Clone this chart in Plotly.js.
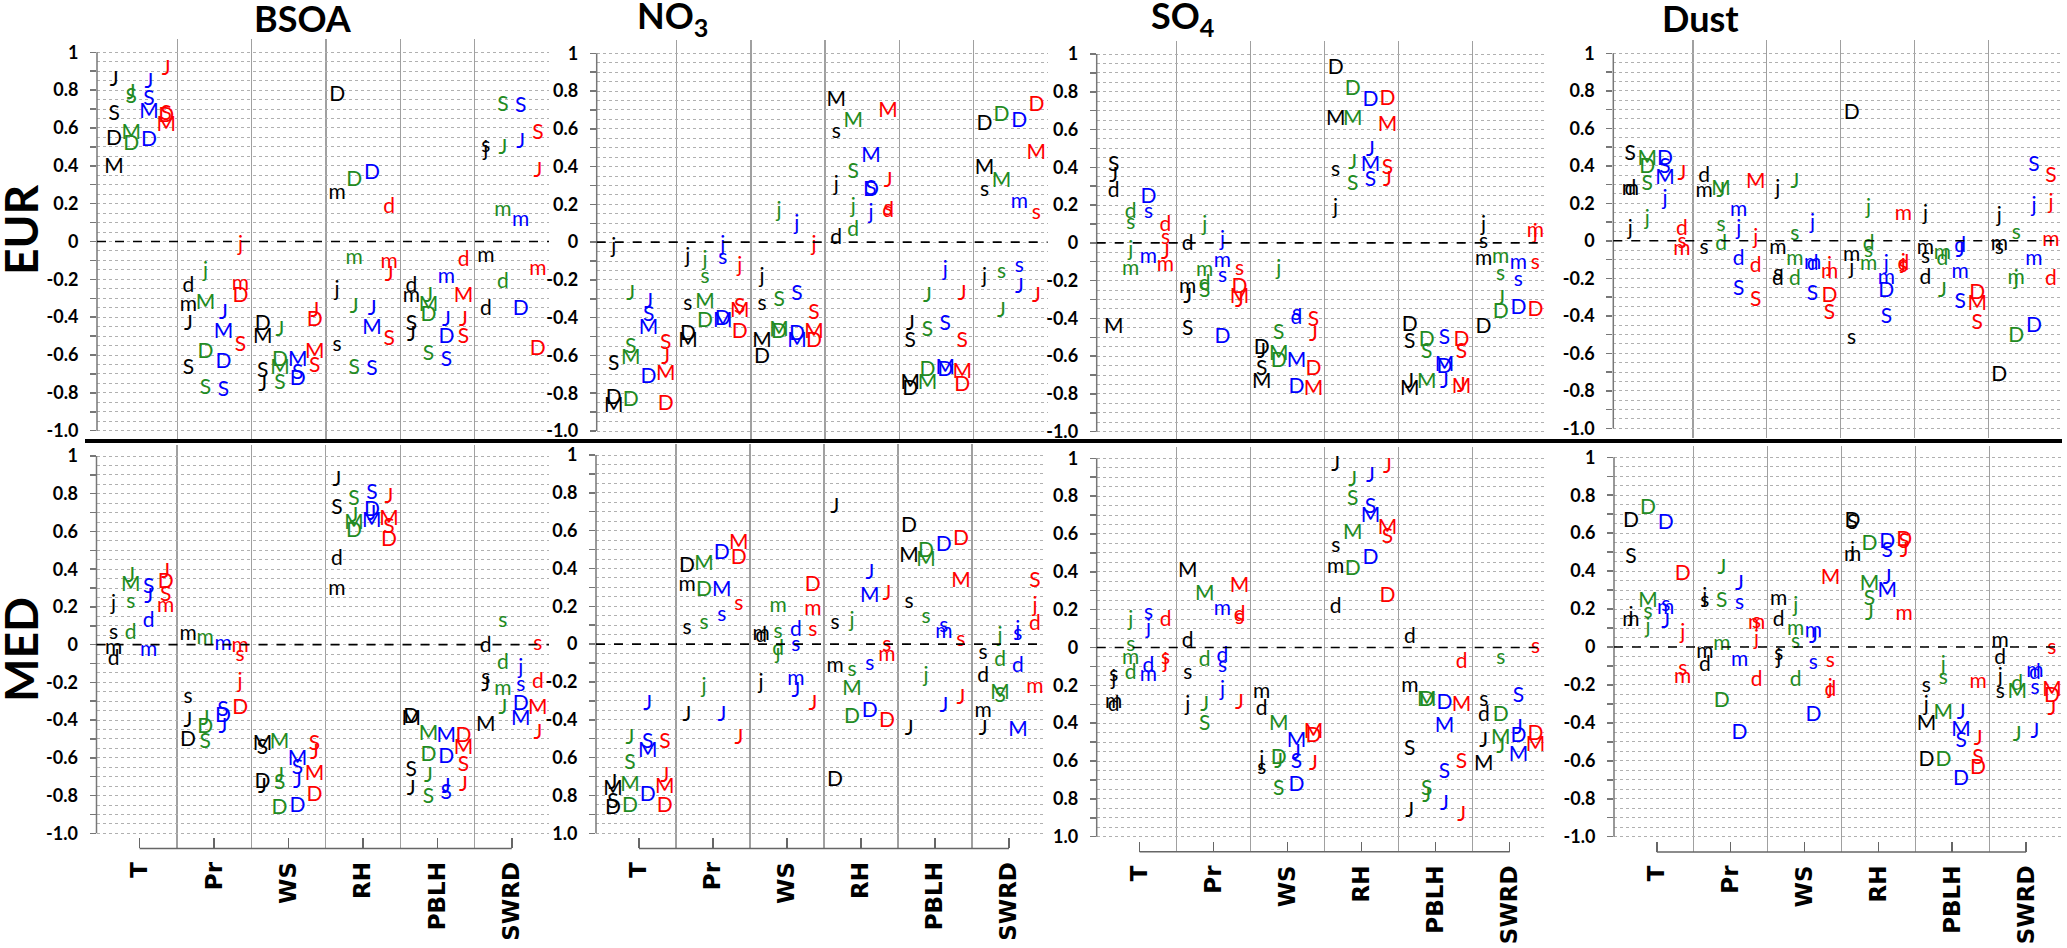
<!DOCTYPE html>
<html>
<head>
<meta charset="utf-8">
<script src="https://cdn.plot.ly/plotly-3.0.1.min.js"></script>
<style>
  html, body { margin: 0; padding: 0; background: #fff; }
  #chart { width: 2067px; height: 948px; }
</style>
</head>
<body>
<div id="chart"></div>
<script>
var categories = ["T", "Pr", "WS", "RH", "PBLH", "SWRD"];

// each series: one list per category of [letter, correlation]
// K = black, G = green, B = blue, R = red
var bsoaEurK = [[["J",.85],["S",.67],["D",.54],["M",.39]], [["d",-.24],["m",-.34],["J",-.44],["S",-.67]], [["D",-.44],["M",-.51],["S",-.69],["J",-.76]], [["D",.77],["m",.25],["j",-.26],["s",-.55]], [["d",-.24],["m",-.29],["S",-.44],["J",-.50]], [["s",.50],["j",.48],["m",-.08],["d",-.36]]];
var bsoaEurG = [[["J",.78],["S",.76],["M",.57],["D",.51]], [["j",-.16],["M",-.33],["D",-.59],["S",-.78]], [["J",-.47],["D",-.63],["M",-.67],["S",-.75]], [["D",.32],["m",-.09],["J",-.35],["S",-.67]], [["J",-.29],["M",-.34],["D",-.39],["S",-.60]], [["S",.72],["J",.49],["m",.16],["d",-.22]]];
var bsoaEurB = [[["J",.84],["S",.75],["M",.68],["D",.53]], [["J",-.38],["M",-.48],["D",-.64],["S",-.79]], [["M",-.63],["S",-.70],["D",-.73]], [["D",.36],["J",-.36],["M",-.46],["S",-.68]], [["m",-.19],["J",-.42],["D",-.51],["S",-.63]], [["S",.71],["J",.52],["m",.11],["D",-.36]]];
var bsoaEurR = [[["J",.91],["S",.67],["D",.66],["M",.61]], [["j",-.02],["m",-.23],["D",-.29],["S",-.55]], [["J",-.37],["D",-.42],["M",-.59],["S",-.66]], [["d",.18],["m",-.11],["J",-.18],["S",-.52]], [["d",-.10],["M",-.29],["J",-.42],["S",-.51]], [["S",.57],["J",.37],["m",-.15],["D",-.57]]];

var no3EurK = [[["j",-.03],["S",-.65],["D",-.83],["M",-.87]], [["j",-.08],["s",-.33],["D",-.49],["M",-.53]], [["j",-.19],["s",-.33],["M",-.53],["D",-.61]], [["M",.75],["s",.58],["j",.30],["d",.02]], [["J",-.44],["S",-.53],["M",-.75],["D",-.78]], [["D",.62],["M",.39],["s",.27],["j",-.19]]];
var no3EurG = [[["J",-.28],["S",-.56],["M",-.62],["D",-.84]], [["j",-.10],["s",-.19],["M",-.32],["D",-.42]], [["j",.16],["S",-.31],["M",-.47],["D",-.48]], [["M",.64],["S",.37],["j",.18],["d",.06]], [["J",-.29],["S",-.47],["D",-.68],["M",-.75]], [["D",.67],["M",.32],["s",-.16],["J",-.37]]];
var no3EurB = [[["J",-.32],["S",-.39],["M",-.46],["D",-.72]], [["j",-.02],["s",-.09],["D",-.41],["M",-.42]], [["j",.09],["S",-.28],["D",-.49],["M",-.53]], [["M",.45],["S",.28],["D",.27],["j",.15]], [["j",-.15],["S",-.44],["M",-.67],["D",-.68]], [["D",.64],["m",.21],["s",-.13],["J",-.24]]];
var no3EurR = [[["S",-.54],["J",-.62],["M",-.70],["D",-.86]], [["j",-.13],["S",-.35],["M",-.37],["D",-.48]], [["j",-.02],["S",-.38],["M",-.48],["D",-.53]], [["M",.69],["J",.32],["s",.17],["d",.16]], [["J",-.28],["S",-.53],["M",-.69],["D",-.76]], [["D",.72],["M",.47],["s",.15],["J",-.29]]];

var so4EurK = [[["S",.41],["J",.35],["d",.27],["M",-.45]], [["d",-.01],["m",-.24],["J",-.29],["S",-.46]], [["D",-.56],["J",-.58],["S",-.67],["M",-.74]], [["D",.92],["M",.65],["s",.38],["j",.18]], [["D",-.44],["S",-.53],["J",-.74],["M",-.78]], [["j",.09],["s",0],["m",-.09],["D",-.45]]];
var so4EurG = [[["d",.16],["s",.10],["j",-.04],["m",-.14]], [["j",.09],["m",-.15],["d",-.22],["S",-.26]], [["j",-.14],["S",-.48],["M",-.59],["D",-.63]], [["D",.81],["M",.65],["J",.42],["S",.31]], [["D",-.52],["S",-.58],["M",-.74]], [["m",-.08],["s",-.17],["J",-.30],["D",-.37]]];
var so4EurB = [[["D",.24],["s",.16],["m",-.08]], [["j",.01],["m",-.10],["s",-.18],["D",-.50]], [["s",-.38],["d",-.40],["M",-.63],["D",-.77]], [["D",.75],["J",.49],["M",.41],["S",.33]], [["S",-.51],["M",-.65],["D",-.66],["J",-.74]], [["m",-.11],["s",-.20],["D",-.35]]];
var so4EurR = [[["d",.09],["s",.02],["J",-.06],["m",-.12]], [["s",-.14],["D",-.24],["M",-.29],["J",-.31]], [["S",-.41],["J",-.49],["D",-.67],["M",-.78]], [["D",.76],["M",.62],["S",.39],["J",.33]], [["D",-.52],["S",-.58],["J",-.76],["M",-.77]], [["m",.06],["j",.05],["s",-.11],["D",-.36]]];

var dustEurK = [[["S",.46],["m",.27],["d",.27],["j",.06]], [["d",.34],["m",.26],["s",-.04]], [["j",.27],["m",-.04],["s",-.18],["d",-.21]], [["D",.68],["m",-.08],["j",-.15],["s",-.52]], [["j",.14],["m",-.04],["s",-.09],["d",-.20]], [["j",.13],["m",-.02],["s",-.04],["D",-.72]]];
var dustEurG = [[["M",.43],["D",.39],["S",.30],["j",.11]], [["M",.27],["J",.26],["s",.08],["d",-.02]], [["J",.31],["s",.03],["m",-.10],["d",-.21]], [["j",.17],["d",-.02],["s",-.06],["m",-.13]], [["m",-.07],["d",-.10],["J",-.27]], [["s",.04],["m",-.20],["j",-.21],["D",-.51]]];
var dustEurB = [[["D",.43],["S",.39],["M",.33],["j",.22]], [["m",.16],["j",.06],["d",-.10],["S",-.26]], [["j",.09],["m",-.12],["d",-.13],["S",-.29]], [["j",-.13],["m",-.20],["D",-.27],["S",-.41]], [["d",-.03],["J",-.06],["m",-.17],["S",-.33]], [["S",.40],["j",.18],["m",-.10],["D",-.46]]];
var dustEurR = [[["J",.35],["d",.06],["s",-.01],["m",-.05]], [["M",.31],["j",.01],["d",-.14],["S",-.32]], [["j",-.14],["m",-.17],["D",-.30],["S",-.39]], [["m",.14],["j",-.12],["d",-.13],["s",-.14]], [["D",-.28],["M",-.34],["S",-.44]], [["S",.34],["j",.20],["m",0],["d",-.21]]];

var bsoaMedK = [[["j",.21],["s",.06],["m",-.02],["d",-.08]], [["m",.05],["s",-.28],["J",-.41],["D",-.51]], [["M",-.53],["S",-.55],["D",-.73],["J",-.76]], [["J",.87],["S",.72],["d",.45],["m",.29]], [["D",-.39],["M",-.40],["S",-.67],["J",-.77]], [["d",-.01],["s",-.18],["J",-.22],["M",-.43]]];
var bsoaMedG = [[["J",.36],["M",.31],["s",.22],["d",.06]], [["m",.03],["J",-.40],["D",-.44],["S",-.52]], [["M",-.52],["J",-.70],["S",-.74],["D",-.87]], [["S",.77],["J",.68],["M",.64],["D",.60]], [["M",-.48],["D",-.59],["J",-.70],["S",-.81]], [["s",.12],["d",-.10],["m",-.24],["J",-.34]]];
var bsoaMedB = [[["S",.30],["J",.25],["d",.12],["m",-.03]], [["m",0],["S",-.35],["D",-.38],["J",-.44]], [["M",-.61],["S",-.66],["J",-.73],["D",-.86]], [["S",.80],["D",.71],["J",.69],["M",.65]], [["M",-.49],["D",-.60],["J",-.76],["S",-.79]], [["j",-.13],["s",-.22],["D",-.32],["M",-.40]]];
var bsoaMedR = [[["J",.38],["D",.33],["S",.26],["m",.20]], [["m",-.01],["s",-.06],["j",-.20],["D",-.34]], [["S",-.53],["J",-.58],["M",-.69],["D",-.80]], [["J",.78],["M",.66],["S",.62],["D",.55]], [["D",-.49],["M",-.55],["S",-.64],["J",-.75]], [["s",0],["d",-.20],["M",-.34],["J",-.47]]];

var no3MedK = [[["J",-.74],["M",-.77],["S",-.84],["D",-.87]], [["D",.41],["m",.31],["s",.08],["J",-.38]], [["m",.05],["d",.04],["j",-.21]], [["J",.72],["s",.11],["m",-.12],["D",-.72]], [["D",.62],["M",.46],["s",.22],["J",-.45]], [["s",-.05],["d",-.17],["m",-.36],["J",-.45]]];
var no3MedG = [[["J",-.50],["S",-.63],["M",-.75],["D",-.86]], [["M",.42],["D",.28],["s",.11],["j",-.23]], [["m",.20],["s",.06],["d",-.03],["j",-.05]], [["j",.12],["s",-.14],["M",-.24],["D",-.39]], [["D",.49],["M",.44],["s",.14],["j",-.17]], [["j",.04],["d",-.09],["M",-.26],["S",-.28]]];
var no3MedB = [[["J",-.32],["S",-.52],["M",-.57],["D",-.80]], [["D",.48],["M",.28],["s",.15],["J",-.38]], [["d",.07],["s",-.01],["m",-.19],["J",-.25]], [["J",.37],["M",.25],["s",-.11],["D",-.36]], [["D",.52],["s",.09],["m",.06],["J",-.33]], [["j",.07],["s",.05],["d",-.12],["M",-.46]]];
var no3MedR = [[["S",-.52],["J",-.70],["M",-.76],["D",-.86]], [["M",.53],["D",.45],["s",.21],["J",-.50]], [["D",.31],["m",.18],["s",.07],["J",-.32]], [["J",.26],["s",-.01],["m",-.06],["D",-.41]], [["D",.55],["M",.33],["s",.02],["J",-.29]], [["S",.33],["j",.20],["d",.10],["m",-.23]]];

var so4MedK = [[["s",-.15],["j",-.17],["m",-.29],["d",-.31]], [["M",.40],["d",.03],["s",-.14],["j",-.31]], [["m",-.24],["d",-.33],["j",-.60],["s",-.64]], [["J",.96],["s",.53],["m",.42],["d",.21]], [["d",.05],["m",-.21],["S",-.54],["J",-.87]], [["s",-.28],["d",-.36],["J",-.50],["M",-.62]]];
var so4MedG = [[["j",.14],["s",.01],["m",-.06],["d",-.14]], [["M",.28],["d",-.07],["J",-.31],["S",-.41]], [["M",-.41],["D",-.59],["J",-.61],["S",-.75]], [["J",.88],["S",.78],["M",.60],["D",.41]], [["M",-.28],["D",-.28],["S",-.75],["J",-.79]], [["s",-.06],["D",-.36],["M",-.48],["J",-.53]]];
var so4MedB = [[["s",.18],["j",.10],["d",-.10],["m",-.15]], [["m",.20],["d",-.05],["s",-.10],["j",-.23]], [["M",-.50],["J",-.56],["S",-.61],["D",-.73]], [["J",.90],["S",.74],["M",.69],["D",.47]], [["D",-.30],["M",-.42],["S",-.66],["J",-.83]], [["S",-.26],["J",-.43],["D",-.47],["M",-.57]]];
var so4MedR = [[["d",.14],["s",-.06],["j",-.08]], [["M",.32],["d",.17],["s",.15],["J",-.30]], [["M",-.45],["D",-.47],["J",-.62]], [["J",.95],["M",.63],["S",.58],["D",.27]], [["d",-.08],["M",-.31],["S",-.61],["J",-.89]], [["s",0],["D",-.46],["M",-.52]]];

var dustMedK = [[["D",.66],["S",.47],["j",.16],["m",.14]], [["j",.26],["s",.24],["m",-.03],["d",-.10]], [["m",.25],["d",.14],["s",-.04],["j",-.06]], [["D",.66],["S",.65],["j",.50],["m",.48]], [["s",-.21],["j",-.31],["M",-.41],["D",-.60]], [["m",.03],["d",-.06],["j",-.16],["s",-.24]]];
var dustMedG = [[["D",.73],["M",.24],["s",.18],["j",.10]], [["J",.41],["S",.24],["m",.01],["D",-.29]], [["j",.21],["m",.09],["s",.02],["d",-.18]], [["D",.54],["M",.33],["S",.25],["J",.17]], [["j",-.10],["s",-.17],["M",-.35],["D",-.60]], [["d",-.20],["M",-.24],["J",-.47]]];
var dustMedB = [[["D",.65],["s",.22],["m",.20],["J",.13]], [["J",.33],["s",.23],["m",-.07],["D",-.46]], [["m",.08],["J",.05],["s",-.09],["D",-.36]], [["D",.55],["S",.50],["J",.36],["M",.29]], [["J",-.35],["M",-.44],["S",-.50],["D",-.70]], [["m",-.13],["d",-.14],["s",-.22],["J",-.45]]];
var dustMedR = [[["D",.38],["j",.07],["s",-.12],["m",-.16]], [["s",.13],["m",.12],["j",.04],["d",-.18]], [["M",.36],["s",-.08],["j",-.22],["d",-.23]], [["D",.56],["S",.55],["J",.50],["m",.17]], [["m",-.19],["J",-.49],["S",-.59],["D",-.64]], [["s",-.01],["M",-.23],["D",-.26],["J",-.33]]];

var yTickVals = [-1.0,-0.9,-0.8,-0.7,-0.6,-0.5,-0.4,-0.3,-0.2,-0.1,0,0.1,0.2,0.3,0.4,0.5,0.6,0.7,0.8,0.9,1.0];
var yTickText = ["-1.0","","-0.8","","-0.6","","-0.4","","-0.2","","0","","0.2","","0.4","","0.6","","0.8","","1"];
var yTickTextNo3Med = ["1.0","","0.8","","0.6","","-0.4","","-0.2","","0","","0.2","","0.4","","0.6","","0.8","","1"];
var yTickTextSo4Med = ["1.0","","0.8","","0.6","","0.4","","0.2","","0","","0.2","","0.4","","0.6","","0.8","","1"];

var W = 2067, H = 948;
var colors = ["#000000", "#228B22", "#0000FF", "#FF0000"];
var offsets = [-0.35, -0.12, 0.12, 0.35];

// pixel placement of each panel (axis line, right edge, +1 and -1 rows)
var panels = [
    {series: [bsoaEurK, bsoaEurG, bsoaEurB, bsoaEurR], x0: 97, x1: 549, y1: 52.3, ym1: 430.7, med: false, ticks: yTickText},
    {series: [no3EurK, no3EurG, no3EurB, no3EurR], x0: 596.7, x1: 1047.5, y1: 53.3, ym1: 431, med: false, ticks: yTickText},
    {series: [so4EurK, so4EurG, so4EurB, so4EurR], x0: 1096.7, x1: 1546.5, y1: 54, ym1: 431.7, med: false, ticks: yTickText},
    {series: [dustEurK, dustEurG, dustEurB, dustEurR], x0: 1613.3, x1: 2062, y1: 53.3, ym1: 428.3, med: false, ticks: yTickText},
    {series: [bsoaMedK, bsoaMedG, bsoaMedB, bsoaMedR], x0: 96.5, x1: 549, y1: 456, ym1: 833.3, med: true, ticks: yTickText},
    {series: [no3MedK, no3MedG, no3MedB, no3MedR], x0: 596, x1: 1046, y1: 455, ym1: 833.3, med: true, ticks: yTickTextNo3Med},
    {series: [so4MedK, so4MedG, so4MedB, so4MedR], x0: 1096.7, x1: 1546.7, y1: 458.3, ym1: 836.7, med: true, ticks: yTickTextSo4Med},
    {series: [dustMedK, dustMedG, dustMedB, dustMedR], x0: 1614, x1: 2063, y1: 457.3, ym1: 836.7, med: true, ticks: yTickText}
];

var yMinor = [];
for (var v = -95; v < 100; v += 10) yMinor.push(v / 100);
var catIdx = [0, 1, 2, 3, 4, 5];
var sepVals = [0.5, 1.5, 2.5, 3.5, 4.5];

var boldFont = "Lato, 'Open Sans', sans-serif";
var traces = [];
var layout = {
    width: W, height: H,
    margin: {l: 0, r: 0, t: 0, b: 0},
    paper_bgcolor: "#ffffff",
    plot_bgcolor: "#ffffff",
    showlegend: false,
    shapes: [],
    annotations: []
};

panels.forEach(function (p, k) {
    var n = k === 0 ? "" : String(k + 1);
    var lo = p.med ? -1.08 : -1.05;
    var hi = p.med ? 1.06 : 1.07;
    var u = (p.ym1 - p.y1) / 2;
    var top = p.y1 - (hi - 1) * u;
    var bot = p.ym1 + (-1 - lo) * u;

    layout["xaxis" + n] = {
        domain: [p.x0 / W, p.x1 / W],
        anchor: "y" + n,
        range: [-0.58, 5.5],
        fixedrange: true,
        zeroline: false,
        showgrid: false,
        showline: false,
        tickmode: "array",
        tickvals: catIdx,
        ticktext: categories,
        showticklabels: p.med,
        ticks: p.med ? "inside" : "",
        ticklen: 10,
        tickwidth: 1.5,
        tickcolor: "#666",
        tickangle: -90,
        ticklabelstandoff: 8,
        tickfont: {family: "'DejaVu Sans', sans-serif", size: 23, weight: 700, color: "#000"},
        minor: {tickmode: "array", tickvals: sepVals, showgrid: true, gridcolor: "#a0a0a0", gridwidth: 1.3, ticks: ""}
    };
    layout["yaxis" + n] = {
        domain: [1 - bot / H, 1 - top / H],
        anchor: "x" + n,
        range: [lo, hi],
        fixedrange: true,
        zeroline: false,
        showline: false,
        tickmode: "array",
        tickvals: yTickVals,
        ticktext: p.ticks,
        ticks: "outside",
        ticklen: 6,
        tickwidth: 1.5,
        tickcolor: "#777",
        ticklabelstandoff: 8,
        showgrid: true,
        gridcolor: "#b0b0b0",
        griddash: "dot",
        gridwidth: 1,
        tickfont: {family: boldFont, size: 18, weight: 700, color: "#000"},
        minor: {tickmode: "array", tickvals: yMinor, showgrid: true, gridcolor: "#b0b0b0", griddash: "dot", gridwidth: 1, ticks: ""}
    };

    // left axis line from -1 to 1 only
    layout.shapes.push({
        type: "line", xref: "x" + n + " domain", yref: "y" + n,
        x0: 0, x1: 0, y0: -1, y1: 1,
        line: {color: "#777", width: 1.5}
    });
    // bottom category axis from the first to the last category
    if (p.med) {
        layout.shapes.push({
            type: "line", xref: "x" + n, yref: "y" + n + " domain",
            x0: 0, x1: 5, y0: 0, y1: 0,
            line: {color: "#666", width: 1.5}
        });
    }
    // dashed zero line
    layout.shapes.push({
        type: "line", xref: "x" + n + " domain", yref: "y" + n,
        x0: 0, x1: 1, y0: 0, y1: 0,
        line: {color: "#000", width: 1.6, dash: "dash"}
    });

    p.series.forEach(function (ser, c) {
        var xs = [], ys = [], txt = [];
        ser.forEach(function (pairs, i) {
            pairs.forEach(function (pr) {
                xs.push(i + offsets[c]);
                ys.push(pr[1]);
                txt.push(pr[0]);
            });
        });
        traces.push({
            type: "scatter",
            mode: "text",
            x: xs, y: ys, text: txt,
            xaxis: "x" + n, yaxis: "y" + n,
            textposition: "middle center",
            textfont: {family: "Lato, 'Liberation Sans', sans-serif", size: 21, color: colors[c]},
            cliponaxis: false,
            hoverinfo: "skip"
        });
    });
});

// thick separator between the two rows
layout.shapes.push({
    type: "line", xref: "paper", yref: "paper",
    x0: 85 / W, x1: 2062 / W, y0: 1 - 441 / H, y1: 1 - 441 / H,
    line: {color: "#000", width: 4}
});

var titles = [["BSOA", 303], ["NO<sub>3</sub>", 672], ["SO<sub>4</sub>", 1182], ["Dust", 1700]];
titles.forEach(function (t) {
    layout.annotations.push({
        text: t[0], xref: "paper", yref: "paper",
        x: t[1] / W, y: 1 - 18 / H, xanchor: "center", yanchor: "middle",
        showarrow: false,
        font: {family: boldFont, size: 36, weight: 700, color: "#000"}
    });
});

[["EUR", 230], ["MED", 650]].forEach(function (r) {
    layout.annotations.push({
        text: r[0], xref: "paper", yref: "paper",
        x: 20 / W, y: 1 - r[1] / H, xanchor: "center", yanchor: "middle",
        textangle: -90, showarrow: false,
        font: {family: boldFont, size: 46, weight: 700, color: "#000"}
    });
});

Plotly.newPlot("chart", traces, layout, {displayModeBar: false, staticPlot: true});
</script>
</body>
</html>
